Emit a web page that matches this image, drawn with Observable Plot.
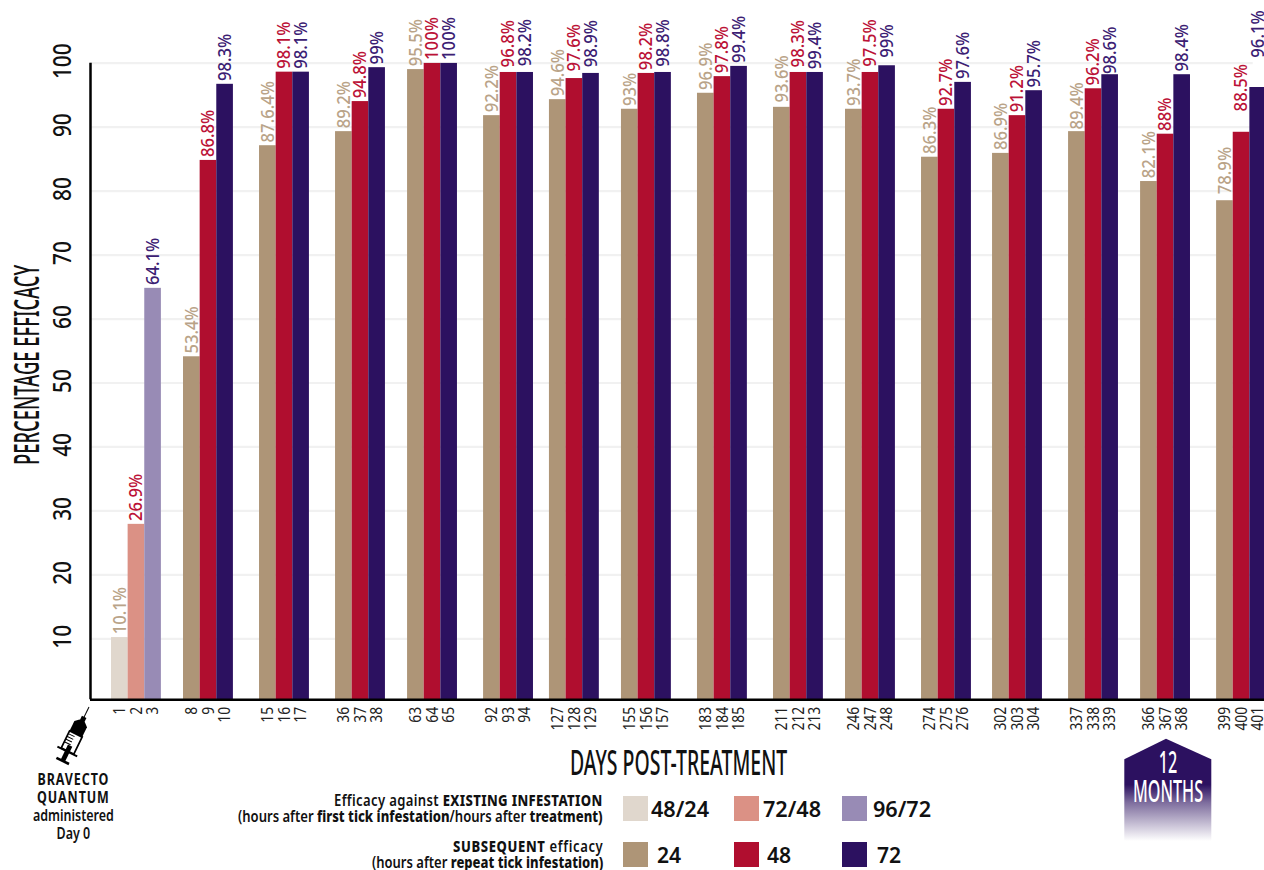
<!DOCTYPE html>
<html><head><meta charset="utf-8">
<script src="https://cdn.jsdelivr.net/npm/d3@7"></script>
<script src="https://cdn.jsdelivr.net/npm/@observablehq/plot@0.6"></script>
<style>
html,body{margin:0;padding:0;background:#fff;overflow:hidden}
#wrap{position:relative;width:1264px;height:870px;overflow:hidden}
#wrap svg{display:block}
.ov{position:absolute;white-space:nowrap;font-family:"Noto Sans",sans-serif;color:#111;line-height:1}
.ov b{font-weight:800}
</style></head><body><div id="wrap"></div>
<script>
const days = [1,2,3, 8,9,10, 15,16,17, 36,37,38, 63,64,65, 92,93,94, 127,128,129, 155,156,157,
  183,184,185, 211,212,213, 246,247,248, 274,275,276, 302,303,304, 337,338,339, 366,367,368, 399,400,401];
const barValues = [10.2,27.9,64.8, 54.1,84.8,96.7, 87.1,98.6,98.6, 89.3,94.0,99.3, 99.0,100,100, 91.8,98.55,98.55,
  94.3,97.6,98.4, 92.8,98.4,98.55, 95.3,97.9,99.5, 93.1,98.55,98.55, 92.8,98.55,99.6, 85.3,92.8,97.0,
  85.9,91.8,95.7, 89.3,96.0,98.2, 81.5,88.9,98.2, 78.5,89.2,96.2];
const labelTexts = ["10.1%","26.9%","64.1%","53.4%","86.8%","98.3%","87.6.4%","98.1%","98.1%","89.2%","94.8%","99%",
  "95.5%","100%","100%","92.2%","96.8%","98.2%","94.6%","97.6%","98.9%","93%","98.2%","98.8%","96.9%","97.8%","99.4%",
  "93.6%","98.3%","99.4%","93.7%","97.5%","99%","86.3%","92.7%","97.6%","86.9%","91.2%","95.7%","89.4%","96.2%","98.6%",
  "82.1%","88%","98.4%","78.9%","88.5%","96.1%"];
const labelLift = {93:.28,94:.44,128:.6,129:.44,157:.39,211:.23,212:.28,247:.39,248:.75,399:.5,400:2.75,401:4.15,337:-.2,339:-.4};
const existingKeys = ["48/24","72/48","96/72"];
const subsequentKeys = ["24","48","72"];
const barColors = ["#e0d7cd","#db9185","#988bb5","#ae9577","#b00e2f","#2c1160"];
const labelColors = ["#b9a388","#bb1237","#3b2073"];
const gapAfterGroup = [1.33,1.57,1.57,1.33,1.57,.96,1.33,1.57,1.57,1.33,1.57,1.27,1.57,1.33,1.57];
const yTicks = [10,20,30,40,50,60,70,80,90,100];

const seriesDomain = [...existingKeys, ...subsequentKeys];
let start = 0;
const rows = days.map((day,i) => {
  const g = Math.floor(i/3), k = i%3;
  if (k===0 && g>0) start += 3 + gapAfterGroup[g-1];
  return {day, value:barValues[i], label:labelTexts[i], pos:start+k, mid:start+k+.5,
    series:(g===0?existingKeys:subsequentKeys)[k], k};
});
const lastEdge = rows[rows.length-1].pos+1;
const xMin = -1.262, xMax = lastEdge-.12;
const dayAt = new Map(rows.map(r=>[r.mid,r.day]));
const sans = '"Noto Sans",sans-serif';

const plot = Plot.plot({
  width:1264,height:870,marginLeft:90,marginRight:0,marginTop:62.7,marginBottom:170.7,
  style:{background:"#fff",overflow:"visible"},
  x:{domain:[xMin,xMax],axis:null},
  y:{domain:[.47,100],axis:null},
  color:{domain:seriesDomain,range:barColors},
  marks:[
    Plot.ruleY(yTicks,{x1:xMin,x2:lastEdge-.8,stroke:"#f1f1f1",strokeWidth:2.2}),
    Plot.rectY(rows,{x1:"pos",x2:d=>d.pos+1,y1:0,y2:"value",fill:"series",clip:true}),
    Plot.text(rows,{x:"mid",y:d=>d.value+(labelLift[d.day]||0),text:"label",rotate:-90,textAnchor:"start",dy:-3.3,
      fill:{value:d=>labelColors[d.k],scale:null},fontFamily:sans,fontSize:18.5,fontWeight:500,className:"squeeze-90"}),
    Plot.axisX({ticks:rows.map(r=>r.mid),tickFormat:d=>dayAt.get(d),tickRotate:-90,tickSize:0,tickPadding:7,
      fontSize:16.5,fontFamily:sans,label:null,fill:"#222",className:"squeeze-84"}),
    Plot.axisY({ticks:yTicks,tickRotate:-90,tickSize:0,tickPadding:19.5,fontSize:26,fontWeight:500,fontFamily:sans,label:null,fill:"#111",dy:-2,className:"squeeze-80"}),
    Plot.ruleX([xMin],{stroke:"#000",strokeWidth:2.5}),
    Plot.ruleY([.47],{stroke:"#000",strokeWidth:2.5})
  ]
});
const wrap=document.getElementById("wrap");
wrap.appendChild(plot);
// the installed sans has no condensed cut: narrow the glyphs of the chart's texts
[["squeeze-90",.9],["squeeze-84",.84],["squeeze-80",.8]].forEach(([cls,k])=>{
  plot.querySelectorAll(`.${cls} text`).forEach(t=>{
    t.setAttribute("textLength",(t.getComputedTextLength()*k).toFixed(2));
    t.setAttribute("lengthAdjust","spacingAndGlyphs");
  });
});

function put(html,x,y,opt={}){
  const e=document.createElement("div");e.className="ov";e.innerHTML=html;
  Object.assign(e.style,{left:x+"px",top:y+"px",fontSize:(opt.size||15)+"px",fontWeight:opt.weight||"normal",color:opt.color||"#111"});
  if(opt.lh)e.style.lineHeight=opt.lh+"px";
  if(opt.align)e.style.textAlign=opt.align;
  wrap.appendChild(e);
  const w=e.offsetWidth,h=e.offsetHeight,k=opt.w?opt.w/w:1;
  let left=x; if(opt.align==="right")left=x-w*k; if(opt.align==="center")left=x-w*k/2;
  e.style.left=left+"px";e.style.top=(y-h/2)+"px";
  e.style.transformOrigin="0 50%";e.style.transform=`scaleX(${k})`;
  return e;
}
// axis titles
const yt=put("PERCENTAGE EFFICACY",0,0,{size:34,weight:500});
{const w=yt.offsetWidth,h=yt.offsetHeight,k=200/w;yt.style.left="26px";yt.style.top="365px";
 yt.style.transformOrigin="0 0";yt.style.transform=`translate(${-h/2}px,${100}px) rotate(-90deg) scaleX(${k})`;}
put("DAYS POST-TREATMENT",569.5,761.5,{size:34,weight:500,w:217});
// legend text
put("<span style='letter-spacing:.42px'>Efficacy against <b>EXISTING INFESTATION</b></span><br>(hours after <b>first tick infestation</b>/hours after <b>treatment)</b>",603,808,{size:15.5,lh:16,weight:600,align:"right",w:365});
put("<span style='letter-spacing:.75px'><b>SUBSEQUENT</b> efficacy</span><br>(hours after <b>repeat tick infestation)</b>",603,854,{size:15.5,lh:16,weight:600,align:"right",w:231});
// legend swatches and keys
const swX=[622.5,734,842], keyX=[[651,763,873],[657,767,877]], rowsY=[[796,808],[842,854]];
[existingKeys,subsequentKeys].forEach((keys,r)=>keys.forEach((key,i)=>{
  const s=document.createElement("div");
  Object.assign(s.style,{position:"absolute",left:swX[i]+"px",top:rowsY[r][0]+"px",width:"25px",height:"25px",background:barColors[r*3+i]});
  wrap.appendChild(s);
  put(key,keyX[r][i],rowsY[r][1],{size:22,weight:600,w:key.length>2?58:24});
}));
// Bravecto note
put("<span style='font-weight:700;letter-spacing:1.2px'>BRAVECTO<br>QUANTUM</span><br>administered<br>Day 0",73,806,{size:16,lh:18,weight:650,align:"center",w:81});
// syringe and 12-months tab
const ns="http://www.w3.org/2000/svg";
const art=document.createElementNS(ns,"svg");
art.setAttribute("width",1264);art.setAttribute("height",870);
art.style.cssText="position:absolute;left:0;top:0;pointer-events:none";
art.innerHTML=`<defs><linearGradient id="fade" x1="0" y1="0" x2="0" y2="1">
<stop offset="0.45" stop-color="#2c1160"/><stop offset="0.62" stop-color="#2c1160" stop-opacity=".62"/><stop offset="1" stop-color="#2c1160" stop-opacity="0"/></linearGradient></defs>
<polygon points="1166,738.7 1211.3,759.3 1211.3,841 1124.3,841 1124.3,759.3" fill="url(#fade)"/>
<g transform="translate(89,707) rotate(26)" fill="#000" stroke="#000">
<line x1="0" y1="0" x2="0" y2="14" stroke-width="1"/>
<rect x="-2.5" y="11" width="5" height="6" stroke="none"/>
<path d="M-7 19 L-3 15.5 H3 L7 19 V31 H-7 Z" stroke="none"/>
<rect x="-7" y="30" width="14" height="19" fill="#fff" stroke-width="1.8"/>
<line x1="-7" y1="33" x2="0" y2="33" stroke-width="1"/><line x1="-7" y1="36" x2="0" y2="36" stroke-width="1"/>
<line x1="-7" y1="39" x2="0" y2="39" stroke-width="1"/><line x1="-7" y1="42" x2="0" y2="42" stroke-width="1"/>
<line x1="-11" y1="49.5" x2="11" y2="49.5" stroke-width="2"/>
<rect x="-2.4" y="43" width="4.8" height="17" stroke="none"/>
<line x1="-7" y1="60" x2="7" y2="60" stroke-width="2.6"/>
</g>`;
wrap.appendChild(art);
put("12<br>MONTHS",1167.5,775.5,{size:30,lh:29,weight:500,align:"center",w:70,color:"#fff"});
</script></body></html>
